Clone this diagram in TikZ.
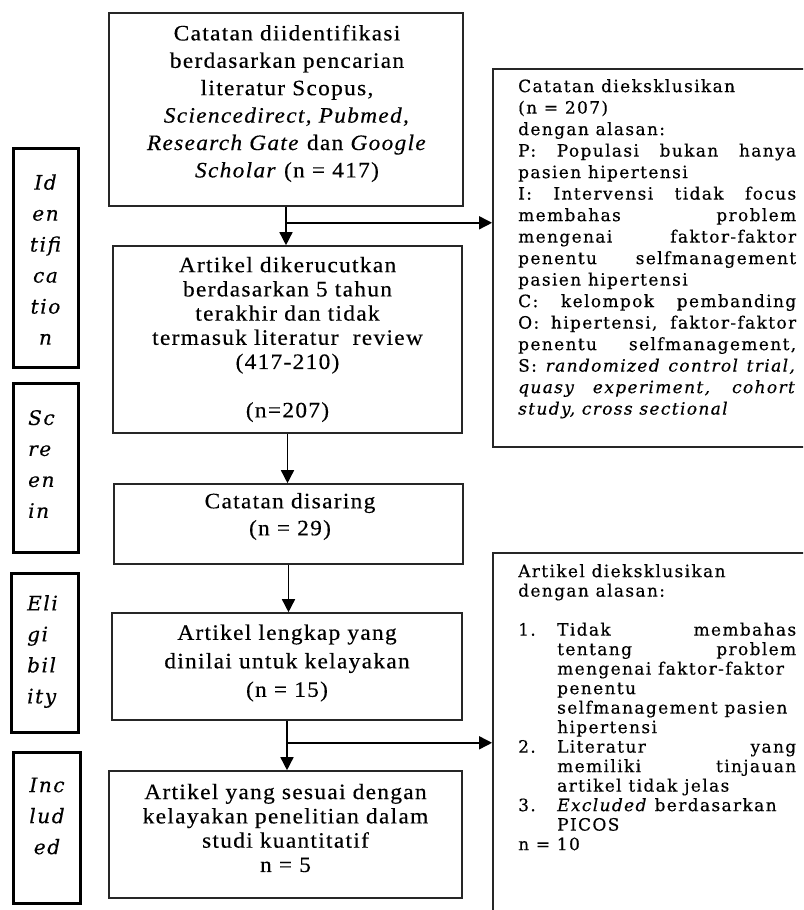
\documentclass[tikz,border=0pt]{standalone}
\usepackage{fontspec}
\setmainfont[LetterSpace=6,FakeStretch=1.06,FakeBold=0.4]{Liberation Serif}
\newfontfamily\rfont[LetterSpace=8,FakeBold=0.4]{DejaVu Serif}
\newfontfamily\lfont[LetterSpace=8,FakeBold=0.4]{DejaVu Serif}
\usetikzlibrary{arrows.meta}
\begin{document}
\begin{tikzpicture}[x=1pt,y=-1pt,
  mainbox/.style={draw=black!85, line width=1.6pt, inner sep=0pt},
  labbox/.style={draw=black, line width=3pt, inner sep=0pt},
  excbox/.style={draw=black!85, line width=1.8pt, inner sep=0pt},
  maintext/.style={align=center, inner sep=0pt},
  labtext/.style={inner sep=0pt, font={\lfont\itshape\fontsize{20}{31}\selectfont}},
  exctext/.style={anchor=north west, inner sep=0pt},
  flow/.style={line width=1.5pt, black, -{Triangle[length=13pt,width=13pt]}}
]
\useasboundingbox (0,0) rectangle (803,910);
\clip (0,0) rectangle (803,910);

% left stage boxes
\node[labbox, minimum width=65pt, minimum height=219pt] (L1) at (45.5,257.5) {};
\node[labbox, minimum width=65pt, minimum height=169pt] (L2) at (45.5,467.5) {};
\node[labbox, minimum width=67pt, minimum height=159pt] (L3) at (44.5,652.5) {};
\node[labbox, minimum width=67pt, minimum height=151pt] (L4) at (46.5,827.5) {};

\node[labtext, align=center] (L1t) at (45.5,259.5) {Id\\en\\tifi\\ca\\tio\\n};
\node[labtext, align=left, anchor=west] (L2t) at (28,464) {Sc\\re\\en\\in};
\node[labtext, align=left, anchor=west] (L3t) at (27,651.5) {Eli\\gi\\bil\\ity};
\node[labtext, align=center] (L4t) at (47,816) {Inc\\lud\\ed};

% main flow boxes
\node[mainbox, minimum width=354pt, minimum height=193pt] (b1) at (286,109.5) {};
\node[mainbox, minimum width=349pt, minimum height=187pt] (b2) at (287.5,339.5) {};
\node[mainbox, minimum width=349pt, minimum height=80pt] (b3) at (288.5,524) {};
\node[mainbox, minimum width=350pt, minimum height=107pt] (b4) at (287,666.5) {};
\node[mainbox, minimum width=353pt, minimum height=127pt] (b5) at (285.5,834.5) {};

\node[maintext, font={\fontsize{22}{27.4}\selectfont}] (b1t) at (287,103.5)
  {Catatan diidentifikasi\\berdasarkan pencarian\\literatur Scopus,\\
   \textit{Sciencedirect, Pubmed,}\\\textit{Research Gate} dan \textit{Google}\\
   \textit{Scholar} (n = 417)};
\node[maintext, font={\fontsize{22}{24.2}\selectfont}] (b2t) at (287.5,339.5)
  {Artikel dikerucutkan\\berdasarkan 5 tahun\\terakhir dan tidak\\
   termasuk literatur~ review\\(417-210)\\[24.2pt](n=207)};
\node[maintext, font={\fontsize{22}{27}\selectfont}] (b3t) at (290,516.5)
  {Catatan disaring\\(n = 29)};
\node[maintext, font={\fontsize{22}{28.5}\selectfont}] (b4t) at (287,663)
  {Artikel lengkap yang\\dinilai untuk kelayakan\\(n = 15)};
\node[maintext, font={\fontsize{22}{24.3}\selectfont}] (b5t) at (285.5,828)
  {Artikel yang sesuai dengan\\kelayakan penelitian dalam\\studi kuantitatif\\n = 5};

% exclusion boxes
\node[excbox, minimum width=319pt, minimum height=378pt] (e1) at (652.5,258) {};
\node[excbox, minimum width=319pt, minimum height=367pt] (e2) at (652.5,736.5) {};

\node[exctext, font={\rfont\fontsize{17}{21.5}\selectfont}] (e1t) at (518,79)
 {\parbox{278pt}{%
  Catatan dieksklusikan\\
  (n = 207)\\
  dengan alasan:\\
  \makebox[278pt][s]{P: Populasi bukan hanya}\\
  pasien hipertensi\\
  \makebox[278pt][s]{I: Intervensi tidak focus}\\
  \makebox[278pt][s]{membahas problem}\\
  \makebox[278pt][s]{mengenai faktor-faktor}\\
  \makebox[278pt][s]{penentu selfmanagement}\\
  pasien hipertensi\\
  \makebox[278pt][s]{C: kelompok pembanding}\\
  \makebox[278pt][s]{O: hipertensi, faktor-faktor}\\
  \makebox[278pt][s]{penentu selfmanagement,}\\
  \makebox[278pt][s]{S: \textit{randomized control trial,}}\\
  \makebox[278pt][s]{\textit{quasy experiment, cohort}}\\
  \textit{study, cross sectional}}};

\node[exctext, font={\rfont\fontsize{17}{19.5}\selectfont}] (e2t) at (518,564)
 {\parbox{278pt}{%
  Artikel dieksklusikan\\
  dengan alasan:\\[19.5pt]
  \makebox[39pt][l]{1.}\makebox[239pt][s]{Tidak membahas}\\
  \hspace*{39pt}\makebox[239pt][s]{tentang problem}\\
  \hspace*{39pt}mengenai faktor-faktor\\
  \hspace*{39pt}penentu\\
  \hspace*{39pt}selfmanagement pasien\\
  \hspace*{39pt}hipertensi\\
  \makebox[39pt][l]{2.}\makebox[239pt][s]{Literatur yang}\\
  \hspace*{39pt}\makebox[239pt][s]{memiliki tinjauan}\\
  \hspace*{39pt}artikel tidak jelas\\
  \makebox[39pt][l]{3.}\textit{Excluded} berdasarkan\\
  \hspace*{39pt}PICOS\\
  n = 10}};

% connectors
\path (b1.south) ++(0,16) coordinate (j1);
\path (b4.south) ++(0,22) coordinate (j2);
\draw[flow] (b1.south) -- (b1.south |- b2.north);
\draw[flow] (j1) -- (j1 -| e1.west);
\draw[flow] (b2.south) -- (b2.south |- b3.north);
\draw[flow] (b3.south) -- (b3.south |- b4.north);
\draw[flow] (b4.south) -- (b4.south |- b5.north);
\draw[flow] (j2) -- (j2 -| e2.west);
\end{tikzpicture}
\end{document}
